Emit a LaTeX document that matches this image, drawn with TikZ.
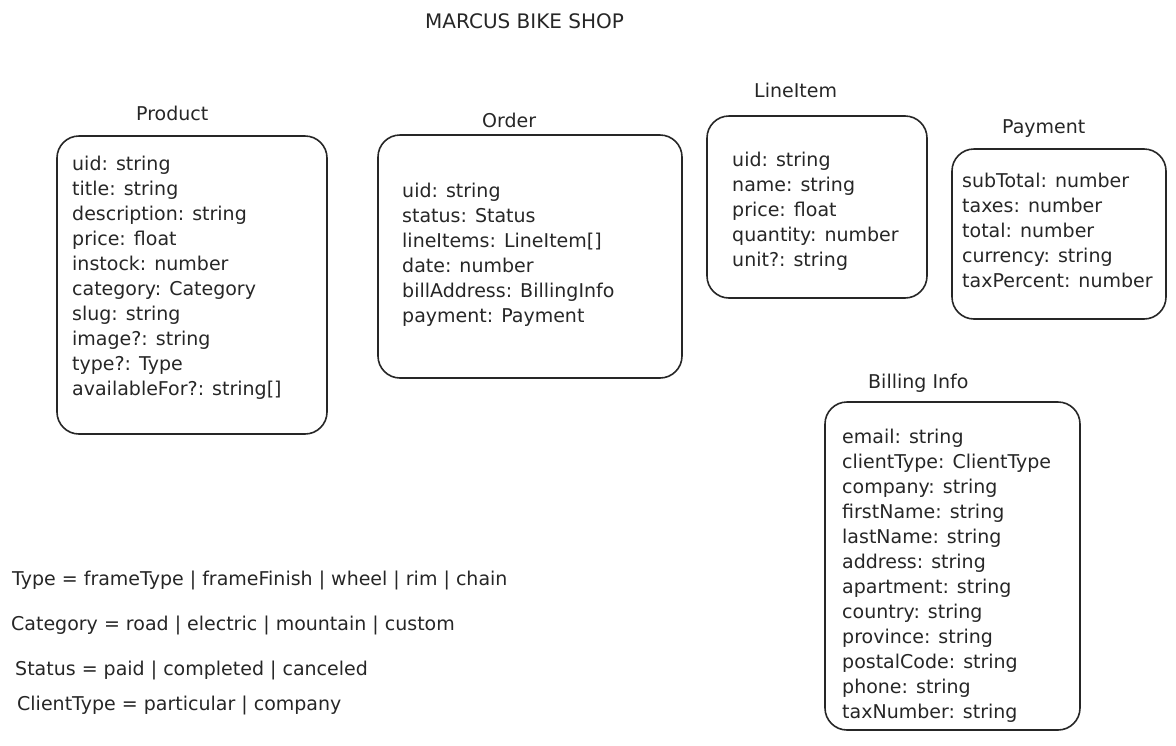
\documentclass[tikz,border=0pt]{standalone}
\usepackage{fontspec}
\setmainfont{DejaVu Sans}
\usetikzlibrary{positioning}

\tikzset{
  entity/.style={draw=black!85, line width=1.6pt, rounded corners=22pt, inner sep=0pt},
  fields/.style={anchor=north west, inner sep=0pt, align=left, text=black!85,
    font=\fontsize{19}{25}\selectfont},
  title/.style={anchor=base west, inner sep=0pt, text=black!85,
    font=\fontsize{19}{25}\selectfont}
}

\begin{document}
\begin{tikzpicture}[x=1pt, y=-1pt]
\useasboundingbox (0,0) rectangle (1176,745);

\node[title, font=\fontsize{20}{25}\selectfont] (shop) at (425,28) {MARCUS BIKE SHOP};

% Product
\node[entity, minimum width=270pt, minimum height=298pt] (product) at (192,285) {};
\node[title] (productT) at (136,120) {Product};
\node[fields] (productF) at (72,156) {uid: string\\ title: string\\ description: string\\ price: float\\ instock: number\\ category: Category\\ slug: string\\ image?: string\\ type?: Type\\ availableFor?: string[]};

% Order
\node[entity, minimum width=304pt, minimum height=243pt] (order) at (530,256.5) {};
\node[title] (orderT) at (482,127) {Order};
\node[fields] (orderF) at (402,183) {uid: string\\ status: Status\\ lineItems: LineItem[]\\ date: number\\ billAddress: BillingInfo\\ payment: Payment};

% LineItem
\node[entity, minimum width=220pt, minimum height=182pt] (lineitem) at (817,207) {};
\node[title] (lineitemT) at (754,97) {LineItem};
\node[fields] (lineitemF) at (732,152) {uid: string\\ name: string\\ price: float\\ quantity: number\\ unit?: string};

% Payment
\node[entity, minimum width=214pt, minimum height=170pt] (payment) at (1059,234) {};
\node[title] (paymentT) at (1002,133) {Payment};
\node[fields] (paymentF) at (962,173) {subTotal: number\\ taxes: number\\ total: number\\ currency: string\\ taxPercent: number};

% Billing Info
\node[entity, minimum width=255pt, minimum height=328pt] (billing) at (952.5,566) {};
\node[title] (billingT) at (868,388) {Billing Info};
\node[fields] (billingF) at (842,429) {email: string\\ clientType: ClientType\\ company: string\\ firstName: string\\ lastName: string\\ address: string\\ apartment: string\\ country: string\\ province: string\\ postalCode: string\\ phone: string\\ taxNumber: string};

% enums
\node[title] (typeE) at (12,585) {Type = frameType | frameFinish | wheel | rim | chain};
\node[title] (categoryE) at (11,630) {Category = road | electric | mountain | custom};
\node[title] (statusE) at (15,675) {Status = paid | completed | canceled};
\node[title] (clientE) at (17,710) {ClientType = particular | company};
\end{tikzpicture}
\end{document}
